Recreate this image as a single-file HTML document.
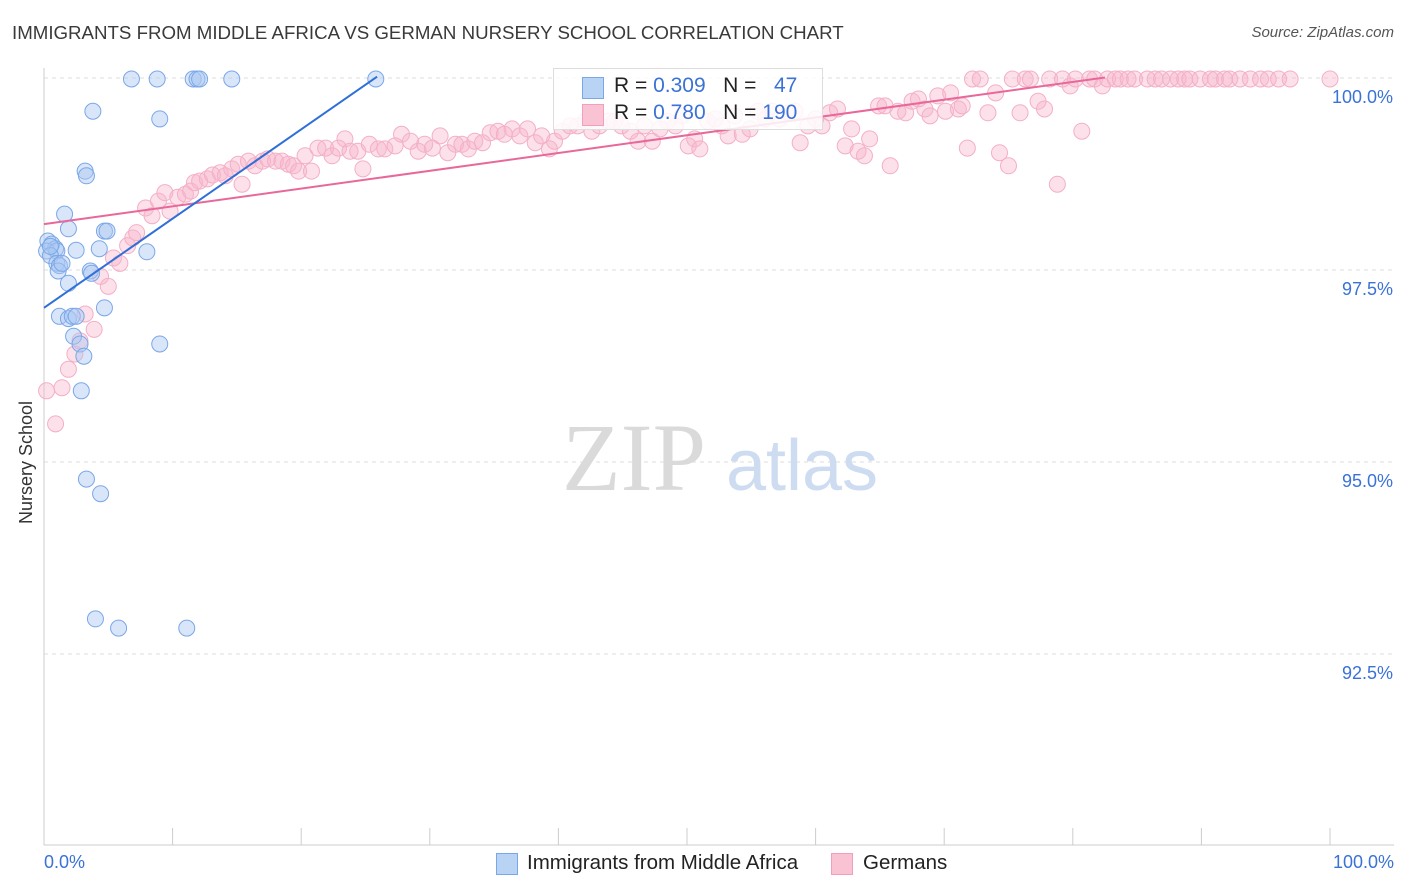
<!DOCTYPE html>
<html><head><meta charset="utf-8">
<style>
body{margin:0;background:#fff;font-family:"Liberation Sans",sans-serif;}
#wrap{position:relative;width:1406px;height:892px;overflow:hidden;}
.t{position:absolute;white-space:nowrap;}
</style></head>
<body>
<div id="wrap">
<div class="t" style="left:12px;top:22px;font-size:18.7px;color:#3a3a3a;">IMMIGRANTS FROM MIDDLE AFRICA VS GERMAN NURSERY SCHOOL CORRELATION CHART</div>
<div class="t" style="right:12px;top:24px;font-size:15px;color:#555;font-style:italic;">Source: ZipAtlas.com</div>
<div class="t" style="font-size:18px;color:#333;transform:rotate(-90deg);transform-origin:0 0;left:16px;top:524px;">Nursery School</div>
<svg id="svg" width="1406" height="892" style="position:absolute;left:0;top:0"></svg>
<div class="t" style="left:553px;top:68px;width:268px;height:60px;border:1px solid #ddd;background:rgba(255,255,255,0.85);">
 <div style="position:absolute;left:28px;top:8px;width:20px;height:20px;background:#b9d3f5;border:1px solid #7aa7e8;"></div>
 <div style="position:absolute;left:28px;top:35px;width:20px;height:20px;background:#f9c3d3;border:1px solid #f0a0bc;"></div>
 <div class="t" style="left:60px;top:5px;font-size:21px;color:#222;">R = <span style="color:#3a72d6">0.309</span>&nbsp;&nbsp; N = &nbsp;&nbsp;<span style="color:#3a72d6">47</span></div>
 <div class="t" style="left:60px;top:32px;font-size:21px;color:#222;">R = <span style="color:#3a72d6">0.780</span>&nbsp;&nbsp; N = <span style="color:#3a72d6">190</span></div>
</div>
<div class="t" style="left:44px;top:852px;font-size:18px;color:#3a72d6;">0.0%</div>
<div class="t" style="right:12px;top:852px;font-size:18px;color:#3a72d6;">100.0%</div>
<div class="t" style="left:496px;top:853px;width:20px;height:20px;background:#b9d3f5;border:1px solid #7aa7e8;"></div>
<div class="t" style="left:527px;top:851px;font-size:20.5px;color:#222;">Immigrants from Middle Africa</div>
<div class="t" style="left:831px;top:853px;width:20px;height:20px;background:#f9c3d3;border:1px solid #f0a0bc;"></div>
<div class="t" style="left:863px;top:851px;font-size:20.5px;color:#222;">Germans</div>
</div>
<script>
const yTicks=[100,97.5,95,92.5];
const yTickLabels=["100.0%","97.5%","95.0%","92.5%"];
const xTicks=[0,10,20,30,40,50,60,70,80,90,100];
const blueX=[6.8,8.8,11.6,11.9,12.1,14.6,25.8,3.8,9.0,3.2,3.3,1.6,1.9,4.7,4.9,0.3,0.6,0.9,0.2,1.0,2.5,4.3,8.0,0.5,1.0,1.2,1.1,3.6,3.7,1.9,4.7,1.2,1.9,2.2,2.5,2.3,2.8,3.1,9.0,2.9,3.3,4.4,4.0,5.8,11.1,0.5,1.4];
const blueY=[100,100,100,100,100,100,100,99.58,99.48,98.8,98.74,98.24,98.05,98.02,98.02,97.89,97.85,97.79,97.76,97.76,97.77,97.79,97.75,97.7,97.6,97.57,97.5,97.5,97.47,97.34,97.02,96.91,96.88,96.91,96.91,96.65,96.55,96.39,96.55,95.94,94.79,94.6,92.97,92.85,92.85,97.82,97.6];
const pinkX=[0.2,0.9,1.4,1.9,2.4,2.8,3.2,3.9,4.4,5.0,5.4,5.9,6.5,6.9,7.2,7.9,8.4,8.9,9.4,9.8,10.4,11.0,11.4,11.7,12.1,12.7,13.1,13.7,14.1,14.6,15.1,15.4,15.9,16.4,17.0,17.4,18.0,18.5,19.0,19.4,19.8,20.3,20.8,21.3,21.9,22.4,22.9,23.4,23.8,24.4,24.8,25.3,26.0,26.5,27.3,27.8,28.5,29.1,29.6,30.2,30.8,31.4,32.0,32.5,33.0,33.5,34.1,34.7,35.3,35.8,36.4,37.0,37.6,38.2,38.7,39.3,39.7,40.3,40.9,41.5,42.1,42.6,43.2,43.9,44.4,44.9,45.6,46.2,46.7,47.3,47.9,48.5,49.1,49.6,50.1,50.6,51.0,51.6,52.2,52.7,53.2,53.7,54.3,54.9,55.5,56.1,56.6,57.2,57.9,58.4,58.8,59.4,60.0,60.5,61.1,61.7,62.3,62.8,63.3,63.8,64.2,64.9,65.4,65.8,66.4,67.0,67.5,68.0,68.5,68.9,69.5,70.1,70.5,71.1,71.4,71.8,72.2,72.8,73.4,74.0,74.3,75.0,75.3,75.9,76.3,76.7,77.3,77.8,78.2,78.8,79.2,79.8,80.2,80.7,81.3,81.7,82.3,82.7,83.3,83.7,84.3,84.8,85.8,86.4,86.9,87.6,88.2,88.7,89.1,89.9,90.7,91.1,91.8,92.2,93.0,93.8,94.6,95.2,96.0,96.9,100];
const pinkY=[95.94,95.51,95.98,96.22,96.42,96.59,96.94,96.74,97.43,97.3,97.67,97.6,97.83,97.93,98.0,98.32,98.22,98.41,98.52,98.28,98.46,98.5,98.54,98.65,98.67,98.7,98.75,98.78,98.74,98.83,98.89,98.63,98.93,98.87,98.93,98.96,98.93,98.93,98.89,98.87,98.8,99.0,98.8,99.1,99.1,99.0,99.1,99.22,99.06,99.06,98.83,99.15,99.09,99.09,99.13,99.28,99.19,99.06,99.15,99.1,99.26,99.04,99.15,99.15,99.09,99.19,99.17,99.3,99.32,99.28,99.35,99.26,99.35,99.17,99.26,99.09,99.19,99.32,99.39,99.39,99.45,99.32,99.39,99.45,99.45,99.39,99.32,99.19,99.39,99.19,99.35,99.45,99.39,99.52,99.13,99.22,99.09,99.45,99.48,99.39,99.26,99.52,99.28,99.35,99.58,99.48,99.58,99.48,99.56,99.58,99.17,99.39,99.48,99.39,99.56,99.61,99.13,99.35,99.06,99.0,99.22,99.65,99.65,98.87,99.58,99.56,99.71,99.74,99.61,99.52,99.78,99.58,99.82,99.61,99.65,99.1,100,100,99.56,99.82,99.04,98.87,100,99.56,100,100,99.71,99.61,100,98.63,100,99.91,100,99.32,100,100,99.91,100,100,100,100,100,100,100,100,100,100,100,100,100,100,100,100,100,100,100,100,100,100,100,100,100,100,99.8];
const blueTrendX=[0,25.9],blueTrendY=[97.02,100.03];
const pinkTrendX=[0,82.5],pinkTrendY=[98.11,100.02];
const X=v=>44+v*12.86, Y=v=>79+(100-v)*76.8;
const svg=document.getElementById('svg');const NS='http://www.w3.org/2000/svg';
function mk(tag,attrs,name){const e=document.createElementNS(NS,tag);for(const k in attrs)e.setAttribute(k,attrs[k]);


svg.appendChild(e);return e;}
yTicks.forEach((t,i)=>{mk('line',{x1:44,x2:1394,y1:Y(t)-1,y2:Y(t)-1,stroke:'#ddd','stroke-dasharray':'4,4'},'y-gridline');
const tx=mk('text',{x:1393,y:Y(t)+24,'text-anchor':'end','font-size':18,fill:'#3a72d6','font-family':'Liberation Sans'},'y-tick-label');tx.textContent=yTickLabels[i];});
mk('line',{x1:44,x2:44,y1:68,y2:845,stroke:'#ccc'},'y-axis');
mk('line',{x1:44,x2:1394,y1:845,y2:845,stroke:'#ccc'},'x-axis');
xTicks.forEach(t=>mk('line',{x1:X(t),x2:X(t),y1:828,y2:845,stroke:'#ccc'},'x-tick'));
const w1=mk('text',{x:634,y:490,'text-anchor':'middle','font-size':96,fill:'#dadada','font-family':'Liberation Serif'},'watermark-zip');w1.textContent='ZIP';
const w2=mk('text',{x:802,y:490,'text-anchor':'middle','font-size':72,fill:'#cddcf0','font-family':'Liberation Sans'},'watermark-atlas');w2.textContent='atlas';
pinkX.forEach((v,i)=>mk('circle',{cx:X(v),cy:Y(pinkY[i]),r:8,fill:'rgba(248,180,203,0.4)',stroke:'#f4afc6','stroke-width':1},'german-point'));
blueX.forEach((v,i)=>mk('circle',{cx:X(v),cy:Y(blueY[i]),r:8,fill:'rgba(170,200,242,0.45)',stroke:'#7aa7e8','stroke-width':1},'immigrant-point'));
mk('line',{x1:X(pinkTrendX[0]),y1:Y(pinkTrendY[0]),x2:X(pinkTrendX[1]),y2:Y(pinkTrendY[1]),stroke:'#e8689a','stroke-width':2},'german-trendline');
mk('line',{x1:X(blueTrendX[0]),y1:Y(blueTrendY[0]),x2:X(blueTrendX[1]),y2:Y(blueTrendY[1]),stroke:'#2f6fd8','stroke-width':2},'immigrant-trendline');
</script>
</body></html>
